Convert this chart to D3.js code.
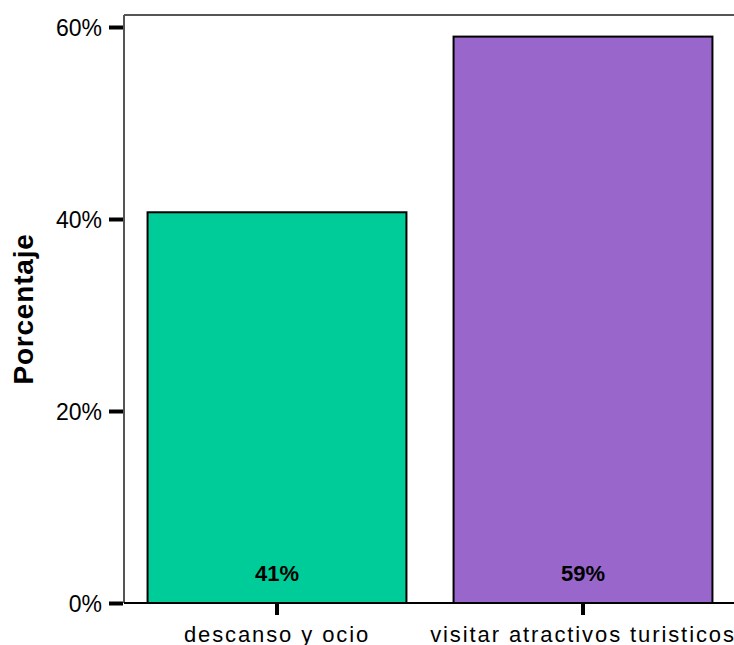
<!DOCTYPE html>
<html>
<head>
<meta charset="utf-8">
<script src="https://cdn.jsdelivr.net/npm/d3@7"></script>
<style>
  body { margin: 0; background: #fff; }
  text { font-family: Arial, "Liberation Sans", sans-serif; }
</style>
</head>
<body>
<script>
const categories = ['descanso y ocio', 'visitar atractivos turisticos'];
const values = [40.7, 59.0];
const colors = ['#00CC99', '#9966CC'];
const yTicks = [0, 20, 40, 60];

const width = 734, height = 645;
const margin = { top: 15, left: 124, bottom: 42 };
const plotBottom = height - margin.bottom;
const font = 'Arial, "Liberation Sans", sans-serif';

const svg = d3.select('body').append('svg')
    .attr('width', width)
    .attr('height', height);

const x = d3.scaleBand()
    .domain(categories)
    .range([margin.left, 736])
    .paddingInner(0.154)
    .paddingOuter(0.077);

const y = d3.scaleLinear()
    .domain([0, 60])
    .range([plotBottom, 27]);

// frame: top and left lines
svg.append('line')
    .attr('x1', margin.left).attr('x2', width)
    .attr('y1', margin.top).attr('y2', margin.top)
    .attr('stroke', '#555').attr('stroke-width', 2);
svg.append('line')
    .attr('x1', margin.left).attr('x2', margin.left)
    .attr('y1', margin.top).attr('y2', plotBottom)
    .attr('stroke', '#555').attr('stroke-width', 2);

// bars
svg.append('g').selectAll('rect')
    .data(values)
    .enter().append('rect')
    .attr('x', (d, i) => x(categories[i]))
    .attr('y', d => y(d))
    .attr('width', x.bandwidth())
    .attr('height', d => plotBottom - y(d))
    .attr('fill', (d, i) => colors[i])
    .attr('stroke', '#000')
    .attr('stroke-width', 2);

// baseline
svg.append('line')
    .attr('x1', margin.left).attr('x2', width)
    .attr('y1', plotBottom).attr('y2', plotBottom)
    .attr('stroke', '#000').attr('stroke-width', 2);

// value labels
svg.append('g').selectAll('text')
    .data(values)
    .enter().append('text')
    .attr('x', (d, i) => x(categories[i]) + x.bandwidth() / 2)
    .attr('y', plotBottom - 22)
    .attr('text-anchor', 'middle')
    .attr('font-size', 22)
    .attr('font-weight', 'bold')
    .text(d => Math.round(d) + '%');

// y axis
const yAxis = d3.axisLeft(y)
    .tickValues(yTicks)
    .tickFormat(d => d + '%')
    .tickSize(14)
    .tickPadding(7);
const gy = svg.append('g')
    .attr('transform', `translate(${margin.left - 1},0)`)
    .call(yAxis);
gy.select('.domain').remove();
gy.selectAll('.tick line').attr('stroke', '#000').attr('stroke-width', 4);
gy.selectAll('.tick text').attr('font-size', 23).attr('fill', '#000')
    .attr('font-family', font).attr('dy', '0.36em');

// x axis
const xAxis = d3.axisBottom(x)
    .tickSize(12)
    .tickPadding(10);
const gx = svg.append('g')
    .attr('transform', `translate(0,${plotBottom})`)
    .call(xAxis);
gx.select('.domain').remove();
gx.selectAll('.tick line').attr('stroke', '#000').attr('stroke-width', 4);
gx.selectAll('.tick text').attr('font-size', 22).attr('fill', '#000')
    .attr('font-family', font)
    .attr('y', 39).attr('dy', 0)
    .attr('letter-spacing', 1.9);

// y title
svg.append('text')
    .attr('transform', `translate(33,${(margin.top + plotBottom) / 2}) rotate(-90)`)
    .attr('text-anchor', 'middle')
    .attr('font-size', 28)
    .attr('font-weight', 'bold')
    .attr('letter-spacing', 0.8)
    .text('Porcentaje');
</script>
</body>
</html>
